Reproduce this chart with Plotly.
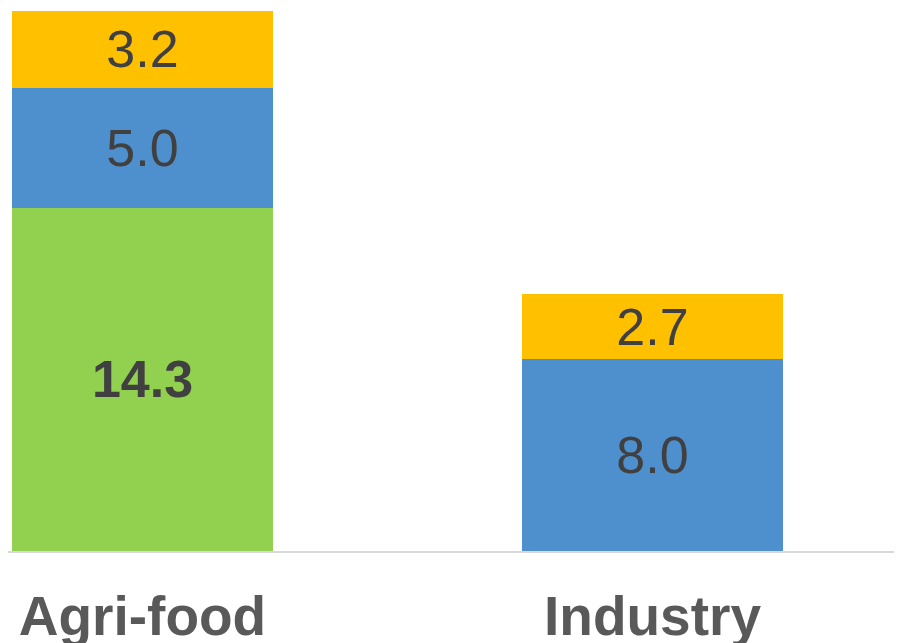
import plotly.graph_objects as go

categories = ["Agri-food", "Industry"]
green_vals = [14.3, 0.0]
blue_vals = [5.0, 8.0]
yellow_vals = [3.2, 2.7]

series = [
    ("Green", green_vals, "#92D050", True),
    ("Blue", blue_vals, "#4E90CD", False),
    ("Yellow", yellow_vals, "#FFC000", False),
]

fig = go.Figure()
for name, vals, color, bold in series:
    texts = []
    for v in vals:
        if v <= 0:
            texts.append("")
        elif bold:
            texts.append(f"<b>{v:.1f}</b>")
        else:
            texts.append(f"{v:.1f}")
    fig.add_trace(go.Bar(
        x=categories, y=vals, name=name,
        marker=dict(color=color, line=dict(width=0)),
        text=texts, textposition="inside", insidetextanchor="middle",
        textangle=0,
        textfont=dict(family="Arial, Liberation Sans, sans-serif", size=52, color="#404040"),
        width=0.512,
        hoverinfo="skip",
    ))

fig.update_layout(
    barmode="stack",
    width=894, height=635,
    margin=dict(l=0, r=0, t=0, b=92),
    paper_bgcolor="white", plot_bgcolor="white",
    showlegend=False,
    xaxis=dict(
        range=[-0.2637, 1.4892],
        automargin=False,
        showline=True, linecolor="#D9D9D9", linewidth=1.5,
        showgrid=False, ticks="",
        tickfont=dict(family="Arial, Liberation Sans, sans-serif", size=55, color="#595959", weight="bold"),
        ticklabelstandoff=16,
    ),
    yaxis=dict(range=[0, 543 / 24], visible=False, showgrid=False, zeroline=False, automargin=False),
)

fig.write_html("out.html")
